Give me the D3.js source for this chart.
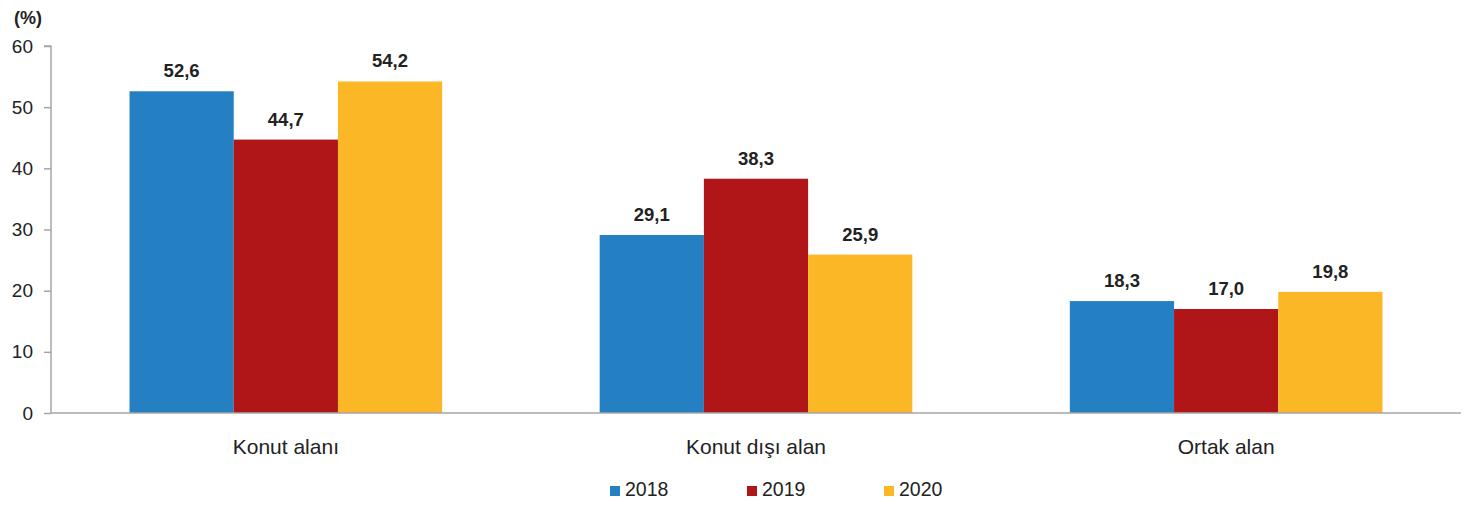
<!DOCTYPE html>
<html><head><meta charset="utf-8">
<script src="https://cdn.jsdelivr.net/npm/d3@7"></script>
<style>body{margin:0;background:#fff}svg{display:block}text{font-family:"Liberation Sans",Arial,sans-serif}</style>
</head><body>
<script>
const categories = ["Konut alanı", "Konut dışı alan", "Ortak alan"];
const years = ["2018", "2019", "2020"];
const values2018 = [52.6, 29.1, 18.3];
const values2019 = [44.7, 38.3, 17.0];
const values2020 = [54.2, 25.9, 19.8];
const colors = ["#2580c3", "#b01518", "#fbb726"];
const yTicks = [0, 10, 20, 30, 40, 50, 60];
const seriesValues = [values2018, values2019, values2020];

const W = 1477, H = 510;
const svg = d3.select("body").append("svg").attr("width", W).attr("height", H);
const mLeft = 51, mRight = 1461, mTop = 46, mBottom = 413;

const x = d3.scaleBand().domain(categories).range([mLeft, mRight]).paddingInner(0.335).paddingOuter(0.167);
const xs = d3.scaleBand().domain(years).range([0, x.bandwidth()]).padding(0);
const y = d3.scaleLinear().domain([0, 60]).range([mBottom, mTop]);

// y axis
const ya = svg.append("g").attr("transform", `translate(${mLeft},0)`)
  .call(d3.axisLeft(y).tickValues(yTicks).tickSize(7).tickPadding(11).tickFormat(d3.format("d")));
ya.selectAll("path,line").attr("stroke", "#a6a6a6").attr("stroke-width", 1.5);
ya.select(".domain").attr("d", `M-7,${mTop}H0V${mBottom}`);
ya.selectAll("text").attr("font-size", 19).attr("fill", "#222");

// bars
categories.forEach((c, i) => {
  years.forEach((yr, j) => {
    const v = seriesValues[j][i];
    svg.append("rect")
      .attr("x", x(c) + xs(yr)).attr("width", xs.bandwidth())
      .attr("y", y(v)).attr("height", y(0) - y(v))
      .attr("fill", colors[j]);
    svg.append("text")
      .attr("x", x(c) + xs(yr) + xs.bandwidth() / 2)
      .attr("y", y(v) - 14)
      .attr("text-anchor", "middle").attr("font-size", 18.5).attr("font-weight", "bold").attr("fill", "#222")
      .text(d3.format(".1f")(v).replace(".", ","));
  });
});

// x axis
const xa = svg.append("g").attr("transform", `translate(0,${mBottom})`)
  .call(d3.axisBottom(x).tickSize(0).tickPadding(26));
xa.select(".domain").attr("stroke", "#a6a6a6").attr("stroke-width", 1.5).attr("d", `M${mLeft},0H${mRight}`);
xa.selectAll("text").attr("font-size", 21).attr("fill", "#222");

// legend
const legX = [610, 747, 884];
years.forEach((yr, j) => {
  const g = svg.append("g").attr("transform", `translate(${legX[j]},496)`);
  g.append("rect").attr("x", 0).attr("y", -10).attr("width", 10).attr("height", 10).attr("fill", colors[j]);
  g.append("text").attr("x", 15).attr("y", 0).attr("font-size", 19.5).attr("fill", "#222").text(yr);
});

// unit label
svg.append("text").attr("x", 14).attr("y", 24).attr("font-size", 18).attr("font-weight", "bold").attr("fill", "#222").text("(%)");
</script>
</body></html>
